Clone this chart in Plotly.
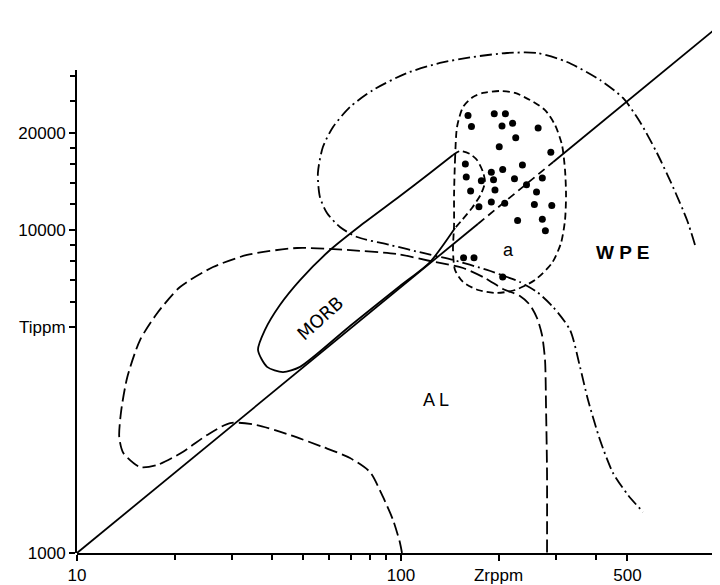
import numpy as np
import plotly.graph_objects as go

# ---- data (Zr ppm, Ti ppm) ----
dot_zr = [161, 194, 210, 165, 205, 221, 265, 226, 201, 290, 158, 190, 206, 237, 159, 177, 193, 224,
          273, 244, 164, 195, 262, 174, 190, 209, 258, 292, 229, 273, 279, 156, 168, 206]
dot_ti = [22600, 22900, 22900, 20900, 21000, 21400, 20700, 19300, 18100, 17400, 16000, 15100, 15400,
          15900, 14600, 14200, 14300, 14400, 14500, 13800, 13200, 13300, 13100, 11800, 12200, 12100,
          12000, 11900, 10700, 10800, 9950, 8200, 8200, 7150]

diag_zr_a = [10, 173]
diag_ti_a = [1000, 10460]
diag_zr_b = [173, 295]
diag_ti_b = [10460, 16240]
diag_zr_c = [295, 1000]
diag_ti_c = [16240, 44390]

morb_zr = [146.8, 122.9, 99.3, 69.6, 48.8, 43.2, 38.6, 36.2, 38.0, 42.3, 48.8, 60.4, 74.7, 99.3, 122.9, 144.7]
morb_ti = [10140, 7960, 6710, 5045, 3770, 3630, 3770, 4250, 4900, 5860, 7000, 8670, 10290, 12740, 15010, 17070]
morb_end_zr = [144.7, 152.1, 163.3, 171.6, 179.1, 181.6, 176.6, 165.6, 154.3, 146.8]
morb_end_ti = [17070, 17560, 17190, 16470, 15120, 14080, 12930, 11700, 10740, 10140]

a_zr = [145.8, 146.8, 148.9, 155.4, 166.8, 179.1, 202.2, 224.9, 250.1, 278.3, 298.8, 314.0, 320.8, 323.1,
        320.8, 311.8, 292.4, 259.2, 224.9, 197.9, 172.9, 155.4, 146.8, 144.7, 145.8, 145.8]
a_ti = [12840, 16470, 20840, 24030, 25810, 26560, 26940, 26560, 25260, 23520, 21140, 18330, 15340, 12840,
        10740, 9116, 7905, 7002, 6521, 6383, 6521, 6902, 7520, 8673, 10360, 12840]

wpe_zr = [808.1, 763.4, 691.0, 616.7, 546.7, 484.4, 411.4, 325.4, 262.9, 212.4, 166.8, 131.9, 104.4,
          82.0, 69.6, 61.7, 57.4, 55.4, 56.2, 59.1, 64.8, 73.2, 92.5, 116.9, 144.7, 184.3, 212.4, 232.9,
          262.9, 294.6, 332.4, 356.9, 377.8, 411.4, 451.2, 501.8, 558.5]
wpe_ti = [8987, 10740, 13590, 17310, 21600, 25630, 29130, 33130, 35320, 35320, 34330, 32890, 30630,
          27130, 24030, 20840, 18070, 15010, 12660, 11290, 10217, 9513, 8987, 8489, 8075, 7520, 7153, 6902,
          6427, 5776, 4902, 3766, 2977, 2238, 1769, 1512, 1339]

al_zr = [100.7, 99.3, 94.5, 88.0, 80.2, 69.6, 57.4, 45.4, 35.9, 29.7, 25.2, 21.2, 17.7, 15.65, 13.9,
         13.5, 13.7, 14.3, 15.65, 17.7, 20.8, 26.3, 33.5, 47.8, 68.1, 97.2, 122.9, 155.4, 181.6, 206.4,
         232.9, 250.1, 262.9, 272.4, 278.3, 280.3, 282.3, 282.3]
al_ti = [1000, 1074, 1265, 1491, 1781, 1968, 2129, 2319, 2490, 2526, 2319, 2055, 1873, 1846, 2040,
         2287, 2772, 3507, 4564, 5534, 6662, 7681, 8368, 8797, 8673, 8428, 8017, 7626, 7102, 6568,
         6248, 5858, 5341, 4731, 3958, 2831, 1769, 1000]

x_tickvals = [10, 100, 200, 500]
x_ticktext = ["10", "100", "Zrppm", "500"]
x_minor = [20, 30, 40, 50, 60, 70, 80, 90, 300, 400]
y_tickvals = [1000, 5000, 10000, 20000]
y_ticktext = ["1000", "Tippm", "10000", "20000"]
y_minor = [6000, 7000, 8000, 9000, 12000, 14000, 16000, 18000, 25000, 30000]

labels = [("MORB", 56.6, 5341, -42, 18, "DejaVu Sans"),
          ("A L", 128.2, 2977, 0, 18, "Liberation Sans"),
          ("<b>W P E</b>", 484.4, 8489, 0, 19, "Liberation Sans"),
          ("a", 215.4, 8673, 0, 18, "Liberation Sans")]

# ---- figure ----
fig = go.Figure()
LW = 1.8


def add_line(x, y, dash, smooth=True):
    fig.add_trace(go.Scatter(x=x, y=y, mode="lines",
                             line=dict(color="black", width=LW, dash=dash,
                                       shape="spline" if smooth else "linear", smoothing=0.7),
                             hoverinfo="skip", showlegend=False))


add_line(diag_zr_a, diag_ti_a, "solid", False)
add_line(diag_zr_b, diag_ti_b, "8px,5px", False)
add_line(diag_zr_c, diag_ti_c, "solid", False)
add_line(morb_zr, morb_ti, "solid")
add_line(morb_end_zr, morb_end_ti, "7px,4px")
add_line(a_zr, a_ti, "7px,4px")
add_line(wpe_zr, wpe_ti, "12px,4px,2px,4px")
add_line(al_zr, al_ti, "13px,5px")

fig.add_trace(go.Scatter(x=dot_zr, y=dot_ti, mode="markers",
                         marker=dict(color="black", size=7),
                         hoverinfo="skip", showlegend=False))

# empty trace so that the visible Ti axis (yaxis2) is drawn
fig.add_trace(go.Scatter(x=[], y=[], yaxis="y2", mode="markers", showlegend=False, hoverinfo="skip"))

for txt, zx, ty, ang, fs, fam in labels:
    fig.add_annotation(x=np.log10(zx), y=np.log10(ty), xref="x", yref="y", text=txt,
                       showarrow=False, textangle=ang,
                       font=dict(family=fam, size=fs, color="black"))

tickfont = dict(family="Liberation Sans", size=17, color="black")
top_px = 543
axis_px = 483
fig.update_layout(
    width=712, height=577,
    margin=dict(l=69, r=0, t=2, b=32),
    paper_bgcolor="white", plot_bgcolor="rgba(0,0,0,0)",
    showlegend=False,
    xaxis=dict(type="log", range=[1, 1 + 643 / 324], showgrid=False, zeroline=False,
               showline=True, linecolor="black", linewidth=2,
               ticks="outside", ticklen=6, tickwidth=1.5, tickcolor="black",
               tickvals=x_tickvals, ticktext=x_ticktext, tickfont=tickfont,
               minor=dict(tickvals=x_minor, ticks="outside", ticklen=5, tickwidth=1.5, tickcolor="black"),
               anchor="y"),
    yaxis=dict(type="log", range=[3, 3 + top_px / 323], visible=False, domain=[0, 1], anchor="x"),
    yaxis2=dict(type="log", range=[3, 3 + axis_px / 323], domain=[0, axis_px / top_px], anchor="x",
                showgrid=False, zeroline=False, showline=True, linecolor="black", linewidth=2,
                ticks="outside", ticklen=6, tickwidth=1.5, tickcolor="black",
                tickvals=y_tickvals, ticktext=y_ticktext, tickfont=tickfont,
                minor=dict(tickvals=y_minor, ticks="outside", ticklen=5, tickwidth=1.5, tickcolor="black")),
)

fig.write_html("out.html")
